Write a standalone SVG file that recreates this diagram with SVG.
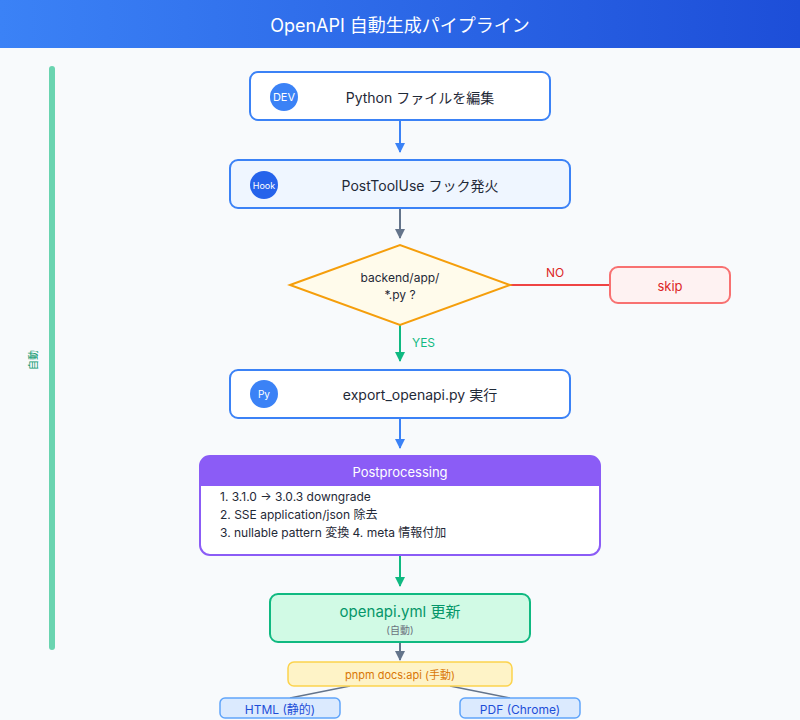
<svg xmlns="http://www.w3.org/2000/svg" width="800" height="720" viewBox="0 0 800 720">
<defs>
<linearGradient id="hg" x1="0" y1="0" x2="1" y2="0"><stop offset="0" stop-color="#3b82f6"/><stop offset="1" stop-color="#1d4ed8"/></linearGradient>
<marker id="ab" markerWidth="10" markerHeight="10" refX="9" refY="5" orient="auto" markerUnits="userSpaceOnUse"><path d="M0,0 L10,5 L0,10 z" fill="#3b82f6"/></marker>
<marker id="ag" markerWidth="10" markerHeight="10" refX="9" refY="5" orient="auto" markerUnits="userSpaceOnUse"><path d="M0,0 L10,5 L0,10 z" fill="#64748b"/></marker>
<marker id="an" markerWidth="10" markerHeight="10" refX="9" refY="5" orient="auto" markerUnits="userSpaceOnUse"><path d="M0,0 L10,5 L0,10 z" fill="#10b981"/></marker>
<style>
text{font-family:Inter,"Noto Sans","Noto Sans CJK JP",sans-serif}
.box{fill:#fff;stroke:#3b82f6;stroke-width:2}
.lbl{font-size:14px;fill:#1f2937;text-anchor:middle;dominant-baseline:central}
.ic{font-size:11px;fill:#fff;text-anchor:middle;dominant-baseline:central}
.pl{font-size:12px;fill:#1f2937}
</style>
</defs>
<rect width="800" height="720" fill="#f8fafc"/>
<rect width="800" height="48" fill="url(#hg)"/>
<text x="400" y="25" font-size="18" fill="#fff" text-anchor="middle" dominant-baseline="central">OpenAPI 自動生成パイプライン</text>
<rect x="49" y="66" width="6" height="584" rx="3" fill="#6ad4b0"/>
<text transform="translate(33,360) rotate(-90)" font-size="10" fill="#059669" text-anchor="middle" dominant-baseline="central">自動</text>
<g id="connectors" fill="none" stroke-width="2">
<line x1="400" y1="121" x2="400" y2="152" stroke="#3b82f6" marker-end="url(#ab)"/>
<line x1="400" y1="208" x2="400" y2="238" stroke="#64748b" marker-end="url(#ag)"/>
<line x1="510" y1="285" x2="610" y2="285" stroke="#ef4444"/>
<line x1="400" y1="325" x2="400" y2="361" stroke="#10b981" marker-end="url(#an)"/>
<line x1="400" y1="418" x2="400" y2="448" stroke="#3b82f6" marker-end="url(#ab)"/>
<line x1="400" y1="556" x2="400" y2="586" stroke="#10b981" marker-end="url(#an)"/>
<line x1="400" y1="642" x2="400" y2="660" stroke="#64748b" marker-end="url(#ag)"/>
<line x1="350" y1="686" x2="290" y2="698" stroke="#64748b" stroke-width="1.5"/>
<line x1="450" y1="686" x2="510" y2="698" stroke="#64748b" stroke-width="1.5"/>
<text x="555" y="277" font-size="12" fill="#dc2626" text-anchor="middle" stroke="none">NO</text>
<text x="412" y="347" font-size="12" fill="#10b981" stroke="none">YES</text>
</g>
<g id="edit"><rect class="box" x="250" y="72" width="300" height="48" rx="8"/><circle cx="284" cy="97" r="14" fill="#3b82f6"/><text class="ic" x="284" y="97">DEV</text><text class="lbl" x="420" y="97">Python ファイルを編集</text></g>
<g id="hook"><rect class="box" x="230" y="160" width="340" height="48" rx="8" fill="#eff6ff" style="fill:#eff6ff"/><circle cx="264" cy="185" r="14" fill="#2563eb"/><text class="ic" x="264" y="185" font-size="9" style="font-size:9px">Hook</text><text class="lbl" x="420" y="185">PostToolUse フック発火</text></g>
<g id="decision"><polygon points="290,285 400,245 510,285 400,325" fill="#fffbeb" stroke="#f59e0b" stroke-width="2"/><text x="400" y="277" font-size="12" fill="#1f2937" text-anchor="middle" dominant-baseline="central">backend/app/</text><text x="400" y="294" font-size="12" fill="#1f2937" text-anchor="middle" dominant-baseline="central">*.py ?</text></g>
<g id="skip"><rect x="610" y="267" width="120" height="36" rx="8" fill="#fef2f2" stroke="#f87171" stroke-width="2"/><text x="670" y="286" font-size="13" fill="#dc2626" text-anchor="middle" dominant-baseline="central">skip</text></g>
<g id="export"><rect class="box" x="230" y="370" width="340" height="48" rx="8"/><circle cx="264" cy="394" r="14" fill="#3b82f6"/><text class="ic" x="264" y="394" style="font-size:10px">Py</text><text class="lbl" x="420" y="394">export_openapi.py 実行</text></g>
<g id="post"><rect x="200" y="456" width="400" height="99" rx="10" fill="#fff" stroke="#8b5cf6" stroke-width="2"/><path d="M200,486 V466 a10,10 0 0 1 10,-10 H590 a10,10 0 0 1 10,10 V486 z" fill="#8b5cf6"/><text x="400" y="472" font-size="13" fill="#fff" text-anchor="middle" dominant-baseline="central">Postprocessing</text><text class="pl" x="220" y="501">1. 3.1.0 -&gt; 3.0.3 downgrade</text><text class="pl" x="220" y="519">2. SSE application/json 除去</text><text class="pl" x="220" y="537">3. nullable pattern 変換 4. meta 情報付加</text></g>
<g id="yml"><rect x="270" y="594" width="260" height="48" rx="8" fill="#d1fae5" stroke="#10b981" stroke-width="2"/><text x="400" y="611" font-size="15" fill="#059669" text-anchor="middle" dominant-baseline="central">openapi.yml 更新</text><text x="400" y="630" font-size="10" fill="#6b7280" text-anchor="middle" dominant-baseline="central">(自動)</text></g>
<g id="pnpm"><rect x="288" y="662" width="224" height="24" rx="6" fill="#fef3c7" stroke="#fcd34d" stroke-width="1.5"/><text x="400" y="675" font-size="11" fill="#d97706" text-anchor="middle" dominant-baseline="central">pnpm docs:api (手動)</text></g>
<g id="html"><rect x="220" y="698" width="120" height="20" rx="5" fill="#dbeafe" stroke="#60a5fa" stroke-width="1.5"/><text x="280" y="709" font-size="12" fill="#1d4ed8" text-anchor="middle" dominant-baseline="central">HTML (静的)</text></g>
<g id="pdf"><rect x="460" y="698" width="120" height="20" rx="5" fill="#dbeafe" stroke="#60a5fa" stroke-width="1.5"/><text x="520" y="709" font-size="12" fill="#1d4ed8" text-anchor="middle" dominant-baseline="central">PDF (Chrome)</text></g>
</svg>
